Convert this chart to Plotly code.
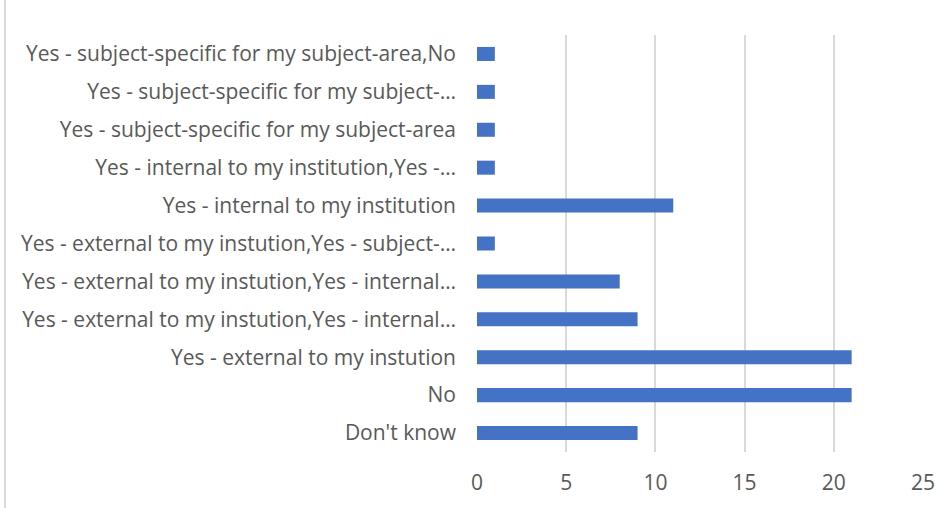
import plotly.graph_objects as go

# Survey responses, listed bottom to top
labels = [
    "Don't know",
    "No",
    "Yes - external to my instution",
    "Yes - external to my instution,Yes - internal…",
    "Yes - external to my instution,Yes - internal…",
    "Yes - external to my instution,Yes - subject-…",
    "Yes - internal to my institution",
    "Yes - internal to my institution,Yes -…",
    "Yes - subject-specific for my subject-area",
    "Yes - subject-specific for my subject-…",
    "Yes - subject-specific for my subject-area,No",
]
counts = [9, 21, 21, 9, 8, 1, 11, 1, 1, 1, 1]
x_ticks = [0, 5, 10, 15, 20, 25]

positions = list(range(len(labels)))

fig = go.Figure(
    go.Bar(
        x=counts,
        y=positions,
        orientation="h",
        width=0.37,
        marker=dict(color="#4472C4", line=dict(width=0)),
        hoverinfo="x+text",
        text=labels,
        textposition="none",
    )
)

W, H = 952, 508
ml, mr, mt, mb = 477, 29, 35, 56
plot_w = W - ml - mr

fig.update_layout(
    width=W,
    height=H,
    margin=dict(l=ml, r=mr, t=mt, b=mb),
    paper_bgcolor="white",
    plot_bgcolor="white",
    font=dict(family="Open Sans, Calibri, sans-serif", size=21, color="#595959"),
    showlegend=False,
    xaxis=dict(
        range=[0, 25],
        tickvals=x_ticks,
        showgrid=True,
        gridcolor="#d9d9d9",
        gridwidth=1.5,
        zeroline=False,
        showline=False,
        ticks="",
        ticklabelstandoff=16,
        fixedrange=True,
    ),
    yaxis=dict(
        range=[-0.5, len(labels) - 0.5],
        tickvals=positions,
        ticktext=labels,
        showgrid=False,
        zeroline=False,
        showline=False,
        ticks="",
        ticklabelstandoff=20,
        fixedrange=True,
    ),
    shapes=[
        dict(
            type="line",
            xref="paper",
            yref="paper",
            x0=(5 - ml) / plot_w,
            x1=(5 - ml) / plot_w,
            y0=-mb / (H - mt - mb),
            y1=1 + mt / (H - mt - mb),
            line=dict(color="#d9d9d9", width=2),
        )
    ],
)

fig.write_html("out.html")
